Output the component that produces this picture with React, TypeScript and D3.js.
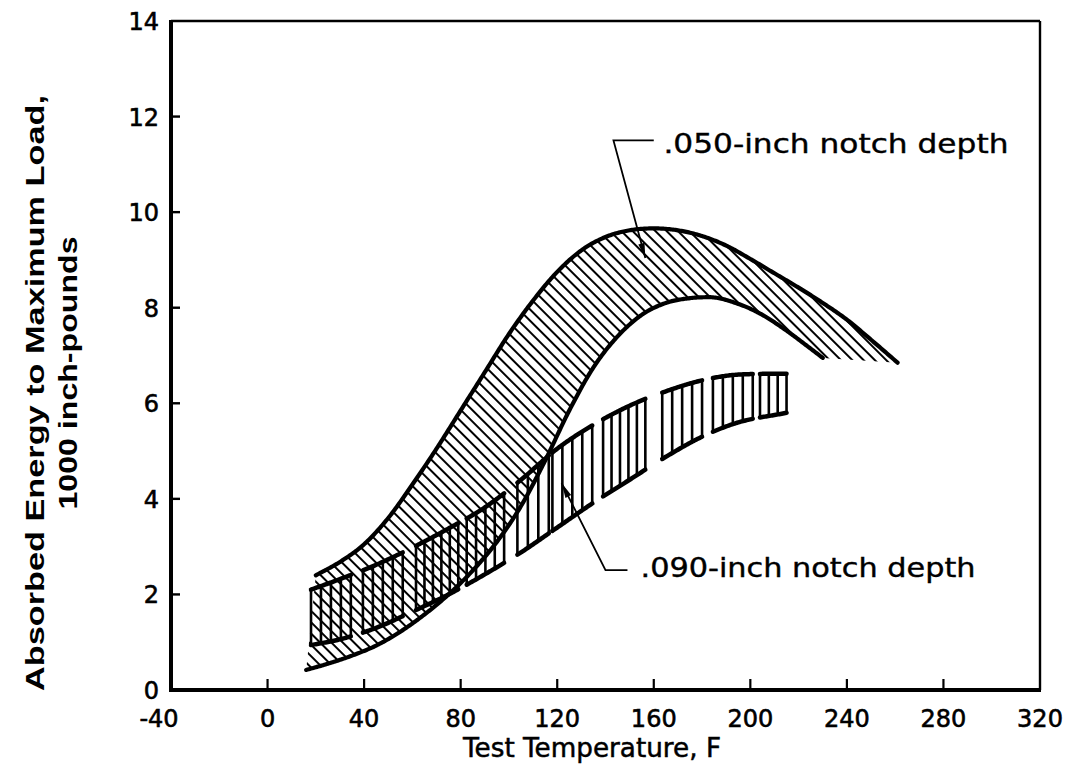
import React from "react";
import * as d3 from "d3";

const W = 1075;
const H = 774;

// Axis ticks
const xTicks = [-40, 0, 40, 80, 120, 160, 200, 240, 280, 320];
const yTicks = [0, 2, 4, 6, 8, 10, 12, 14];

// .050-inch notch depth band (temperature F, energy 1000 in-lb)
const upper050T = [20, 30, 40, 50, 60, 70, 80, 90, 100, 110, 120, 130, 140, 150, 160, 170, 180, 190, 200, 210, 220, 230, 240, 250, 261];
const upper050E = [2.4, 2.68, 3.05, 3.6, 4.3, 5.05, 5.85, 6.65, 7.45, 8.15, 8.75, 9.2, 9.48, 9.62, 9.66, 9.62, 9.5, 9.3, 9.02, 8.72, 8.42, 8.1, 7.75, 7.33, 6.85];
const lower050T = [16, 25, 35, 45, 55, 65, 75, 85, 95, 105, 115, 125, 135, 145, 155, 165, 175, 183, 195, 205, 215, 223, 230];
const lower050E = [0.42, 0.55, 0.72, 0.93, 1.22, 1.58, 2.0, 2.5, 3.1, 3.85, 4.8, 5.85, 6.75, 7.4, 7.85, 8.1, 8.2, 8.22, 8.08, 7.85, 7.52, 7.22, 6.95];

// .090-inch notch depth band
const upper090T = [18, 30, 45, 60, 75, 90, 105, 120, 135, 150, 165, 180, 195, 215];
const upper090E = [2.1, 2.32, 2.62, 2.98, 3.38, 3.82, 4.4, 5.05, 5.55, 5.95, 6.25, 6.48, 6.6, 6.62];
const lower090T = [18, 30, 45, 60, 75, 90, 105, 120, 135, 150, 165, 180, 195, 215];
const lower090E = [0.94, 1.06, 1.3, 1.64, 2.0, 2.42, 2.88, 3.4, 3.92, 4.4, 4.88, 5.3, 5.6, 5.8];
// hatched segments of the .090 band (start, end temperature)
const boxStart090 = [18, 39.5, 61.5, 82.5, 103.5, 118, 139, 163.5, 184.5, 204];
const boxEnd090 = [34.5, 56, 79, 98, 116.5, 134.5, 156.5, 180, 201, 215];

// Callouts: label anchor, elbow, elbow end, arrow tip (temperature, energy)
const labels = [".050-inch notch depth", ".090-inch notch depth"];
const labelAt = [[164, 11.23], [154.5, 2.36]];
const elbowAt = [[143.3, 11.5], [140, 2.51]];
const elbowEndAt = [[160, 11.5], [149.1, 2.51]];
const tipAt = [[156.5, 9.04], [121.8, 4.33]];

// monotone cubic (Fritsch-Carlson) interpolation through band points
function makeInterp(ts: number[], es: number[]) {
  const n = ts.length;
  const d: number[] = [];
  const m: number[] = new Array(n).fill(0);
  for (let i = 0; i < n - 1; i++) d.push((es[i + 1] - es[i]) / (ts[i + 1] - ts[i]));
  m[0] = d[0];
  m[n - 1] = d[n - 2];
  for (let i = 1; i < n - 1; i++) m[i] = d[i - 1] * d[i] <= 0 ? 0 : (d[i - 1] + d[i]) / 2;
  for (let i = 0; i < n - 1; i++) {
    if (d[i] === 0) { m[i] = 0; m[i + 1] = 0; continue; }
    const a = m[i] / d[i], b = m[i + 1] / d[i], s = a * a + b * b;
    if (s > 9) { const k = 3 / Math.sqrt(s); m[i] = k * a * d[i]; m[i + 1] = k * b * d[i]; }
  }
  return (t: number) => {
    let i = d3.bisectRight(ts, t) - 1;
    i = Math.max(0, Math.min(n - 2, i));
    const h = ts[i + 1] - ts[i];
    const u = (t - ts[i]) / h;
    const u2 = u * u, u3 = u2 * u;
    return (2 * u3 - 3 * u2 + 1) * es[i] + (u3 - 2 * u2 + u) * h * m[i] +
      (-2 * u3 + 3 * u2) * es[i + 1] + (u3 - u2) * h * m[i + 1];
  };
}

function sample(f: (t: number) => number, t0: number, t1: number, step = 0.5): [number, number][] {
  const ts = d3.range(t0, t1, step).concat([t1]);
  return ts.map((t) => [t, f(t)]);
}

export default function App() {
  const x = d3.scaleLinear().domain([-40, 320]).range([171, 1040]);
  const y = d3.scaleLinear().domain([0, 14]).range([690, 21]);

  const line = d3.line<[number, number]>().x((d) => x(d[0])).y((d) => y(d[1]));

  const up050 = makeInterp(upper050T, upper050E);
  const lo050 = makeInterp(lower050T, lower050E);
  const up090 = makeInterp(upper090T, upper090E);
  const lo090 = makeInterp(lower090T, lower090E);

  const upPts = sample(up050, upper050T[0], upper050T[upper050T.length - 1]);
  const loPts = sample(lo050, lower050T[0], lower050T[lower050T.length - 1]);
  const bandPath = line([...upPts, ...loPts.slice().reverse()]) + "Z";

  const boxes = boxStart090.map((t0, i) => {
    const t1 = boxEnd090[i];
    const px = x(t1) - x(t0);
    const n = Math.max(2, Math.round(px / 9));
    const vts = d3.range(n + 1).map((k) => t0 + ((t1 - t0) * k) / n);
    return { t0, t1, vts };
  });

  const font = "'DejaVu Sans', 'Liberation Sans', sans-serif";

  const arrow = (tip: number[], from: number[]) => {
    const tx = x(tip[0]), ty = y(tip[1]);
    const fx = x(from[0]), fy = y(from[1]);
    const len = Math.hypot(tx - fx, ty - fy);
    const ux = (tx - fx) / len, uy = (ty - fy) / len;
    const L = 15, w = 3.2;
    const bx = tx - ux * L, by = ty - uy * L;
    return `M${tx},${ty}L${bx - uy * w},${by + ux * w}L${bx + uy * w},${by - ux * w}Z`;
  };

  return (
    <svg width={W} height={H} style={{ position: "absolute", left: 0, top: 0, background: "#fff" }}>
      <defs>
        <pattern id="hatch050" patternUnits="userSpaceOnUse" width="8" height="8" patternTransform="rotate(-45)">
          <line x1="4" y1="-1" x2="4" y2="9" stroke="#000" strokeWidth="2" />
        </pattern>
      </defs>
      <rect width={W} height={H} fill="#fff" />

      {/* .050-inch band */}
      <path d={bandPath} fill="url(#hatch050)" stroke="none" />
      <path d={line(upPts) || ""} fill="none" stroke="#000" strokeWidth={4.2} strokeLinecap="round" />
      <path d={line(loPts) || ""} fill="none" stroke="#000" strokeWidth={4.2} strokeLinecap="round" />

      {/* .090-inch band: hatched segments */}
      {boxes.map((b, i) => (
        <g key={i}>
          {b.vts.map((t, k) => (
            <line key={k} x1={x(t)} x2={x(t)} y1={y(up090(t))} y2={y(lo090(t))} stroke="#000" strokeWidth={2.6} />
          ))}
          <path d={line(sample(up090, b.t0, b.t1)) || ""} fill="none" stroke="#000" strokeWidth={4.5} strokeLinecap="round" />
          <path d={line(sample(lo090, b.t0, b.t1)) || ""} fill="none" stroke="#000" strokeWidth={4.5} strokeLinecap="round" />
        </g>
      ))}

      {/* frame */}
      <line x1={x(-40)} x2={x(320)} y1={y(14)} y2={y(14)} stroke="#000" strokeWidth={2.6} />
      <line x1={x(320)} x2={x(320)} y1={y(14)} y2={y(0)} stroke="#000" strokeWidth={2.4} />
      <line x1={x(-40)} x2={x(-40)} y1={y(14) - 1} y2={y(0) + 2} stroke="#000" strokeWidth={4} />
      <line x1={x(-40)} x2={x(320) + 1} y1={y(0)} y2={y(0)} stroke="#000" strokeWidth={4} />

      {/* ticks */}
      {xTicks.slice(1, -1).map((t) => (
        <line key={t} x1={x(t)} x2={x(t)} y1={y(0)} y2={y(0) - 11} stroke="#000" strokeWidth={2.2} />
      ))}
      {yTicks.slice(1, -1).map((t) => (
        <line key={t} x1={x(-40)} x2={x(-40) + 9} y1={y(t)} y2={y(t)} stroke="#000" strokeWidth={2.4} />
      ))}

      {/* tick labels */}
      {xTicks.map((t) => (
        <text key={t} x={x(t)} dx={t < 0 ? -12 : 0} y={727} textAnchor="middle" fontFamily={font} fontSize={24}
          stroke="#000" strokeWidth={0.6} fill="#000">{t}</text>
      ))}
      {yTicks.map((t) => (
        <text key={t} x={159} y={y(t) + 9} textAnchor="end" fontFamily={font} fontSize={24}
          stroke="#000" strokeWidth={0.6} fill="#000">{t}</text>
      ))}

      {/* axis titles */}
      <text x={592} y={757} textAnchor="middle" fontFamily={font} fontSize={26} stroke="#000" strokeWidth={0.5}
        fill="#000" textLength={258} lengthAdjust="spacingAndGlyphs">Test Temperature, F</text>
      <text transform="translate(44,393) rotate(-90)" textAnchor="middle" fontFamily="'Liberation Sans', Arial, sans-serif"
        fontWeight="bold" fontSize={26} fill="#000" textLength={596} lengthAdjust="spacingAndGlyphs">Absorbed Energy to Maximum Load,</text>
      <text transform="translate(77,373) rotate(-90)" textAnchor="middle" fontFamily="'Liberation Sans', Arial, sans-serif"
        fontWeight="bold" fontSize={26} fill="#000" textLength={273} lengthAdjust="spacingAndGlyphs">1000 inch-pounds</text>

      {/* callouts */}
      {labels.map((s, i) => (
        <g key={s}>
          <polyline
            points={`${x(elbowEndAt[i][0])},${y(elbowEndAt[i][1])} ${x(elbowAt[i][0])},${y(elbowAt[i][1])} ${x(tipAt[i][0])},${y(tipAt[i][1])}`}
            fill="none" stroke="#000" strokeWidth={1.8} />
          <path d={arrow(tipAt[i], elbowAt[i])} fill="#000" />
          <text x={x(labelAt[i][0])} y={y(labelAt[i][1])} fontFamily={font} fontSize={27} fill="#000"
            stroke="#000" strokeWidth={0.4} textLength={i === 0 ? 345 : 335} lengthAdjust="spacingAndGlyphs">{s}</text>
        </g>
      ))}
    </svg>
  );
}
